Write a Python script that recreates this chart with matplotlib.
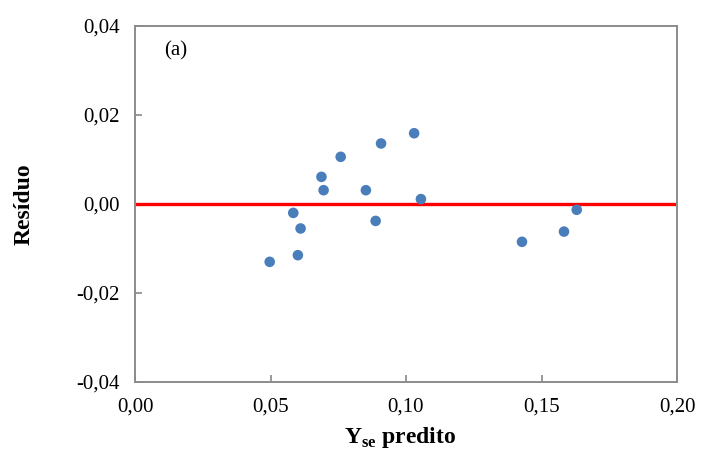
import matplotlib.pyplot as plt
from matplotlib.ticker import FuncFormatter

# Dados (resíduos vs. valor predito)
y_pred = [0.0497, 0.0601, 0.0584, 0.0611, 0.0688, 0.0696, 0.0759, 0.0852,
          0.0888, 0.0908, 0.1030, 0.1055, 0.1428, 0.1583, 0.1630]
residuo = [-0.0130, -0.0115, -0.0020, -0.0055, 0.0061, 0.0031, 0.0106, 0.0031,
           -0.0038, 0.0136, 0.0159, 0.0011, -0.0085, -0.0062, -0.0013]
x_ticks = [0.00, 0.05, 0.10, 0.15, 0.20]
y_ticks = [-0.04, -0.02, 0.00, 0.02, 0.04]

plt.rcParams['font.family'] = ['Liberation Serif', 'DejaVu Serif']
plt.rcParams['mathtext.fontset'] = 'custom'
plt.rcParams['mathtext.rm'] = 'Liberation Serif'
plt.rcParams['mathtext.bf'] = 'Liberation Serif:bold'

fig = plt.figure(figsize=(7.01, 4.58), dpi=100)
ax = fig.add_axes([135/701, 1 - 382/458, 542/701, 356/458])

ax.axhline(0, color='#ff0000', linewidth=2.4, zorder=2)
ax.scatter(y_pred, residuo, s=58, color='#4a7ebb', edgecolors='none', zorder=3)

ax.set_xlim(0, 0.2)
ax.set_ylim(-0.04, 0.04)
ax.set_xticks(x_ticks)
ax.set_yticks(y_ticks)
virgula = FuncFormatter(lambda v, p: f'{v:.2f}'.replace('.', ','))
ax.xaxis.set_major_formatter(virgula)
ax.yaxis.set_major_formatter(virgula)
ax.tick_params(direction='in', length=5, width=1.2, color='#888888',
               labelsize=15, pad=11)

for s in ax.spines.values():
    s.set_color('#8c8c8c')
    s.set_linewidth(1.4)

ax.text(0.053, 0.93, '(a)', transform=ax.transAxes, fontsize=15,
        ha='left', va='center')

ax.set_xlabel(r'$\mathbf{Y}_{\mathbf{se}}$ predito', fontsize=17, fontweight='bold')
ax.xaxis.set_label_coords(0.489, -0.12)
ax.set_ylabel('Resíduo', fontsize=17, fontweight='bold')
ax.yaxis.set_label_coords(-0.185, 0.5)

fig.savefig('out.png', dpi=100)
